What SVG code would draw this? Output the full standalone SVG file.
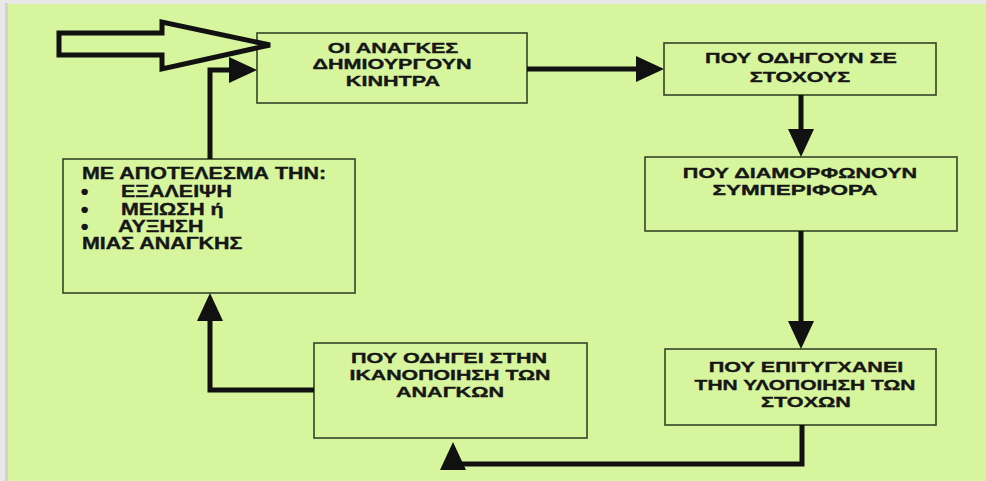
<svg xmlns="http://www.w3.org/2000/svg" width="986" height="481" viewBox="0 0 986 481">
<style>
.box{fill:#d7f59d;stroke:#34452a;stroke-width:1.6}
.t{font-family:"Liberation Sans",Arial,sans-serif;font-weight:bold;font-size:15px;fill:#161616;stroke:#161616;stroke-width:0.35;text-anchor:middle}
.t6{font-family:"Liberation Sans",Arial,sans-serif;font-weight:bold;font-size:16px;fill:#161616;stroke:#161616;stroke-width:0.35}
.b{font-family:"Liberation Sans",Arial,sans-serif;font-weight:bold;font-size:15px;fill:#161616;stroke:#161616;stroke-width:2.2}
.con{fill:none;stroke:#111;stroke-width:5;stroke-linejoin:miter}
</style>
<defs>
<marker id="ah" markerWidth="28" markerHeight="26" refX="22" refY="13" orient="auto" markerUnits="userSpaceOnUse">
<path d="M0,0 L28,13 L0,26 z" fill="#111"/>
</marker>
</defs>
<rect x="0" y="0" width="986" height="481" fill="#e8e8e8"/>
<rect x="5" y="3" width="3" height="478" fill="#d2d2d2"/>
<rect x="8" y="4" width="978" height="477" fill="#d7f59d"/>

<g id="node-anagkes">
<rect class="box" x="257" y="33" width="270" height="70"/>
<text class="t" transform="translate(393,53) scale(1.44,1)">ΟΙ ΑΝΑΓΚΕΣ</text>
<text class="t" transform="translate(392,69) scale(1.44,1)">ΔΗΜΙΟΥΡΓΟΥΝ</text>
<text class="t" transform="translate(393,86) scale(1.44,1)">ΚΙΝΗΤΡΑ</text>
</g>

<g id="node-stoxous">
<rect class="box" x="664" y="43" width="272" height="52"/>
<text class="t" transform="translate(801,63) scale(1.44,1)">ΠΟΥ ΟΔΗΓΟΥΝ ΣΕ</text>
<text class="t" transform="translate(800,82) scale(1.44,1)">ΣΤΟΧΟΥΣ</text>
</g>

<g id="node-symperifora">
<rect class="box" x="645" y="157" width="312" height="74"/>
<text class="t" transform="translate(800,178) scale(1.44,1)">ΠΟΥ ΔΙΑΜΟΡΦΩΝΟΥΝ</text>
<text class="t" transform="translate(795,195) scale(1.5,1)">ΣΥΜΠΕΡΙΦΟΡΑ</text>
</g>

<g id="node-epityxanei">
<rect class="box" x="665" y="349" width="271" height="76"/>
<text class="t" transform="translate(806,372) scale(1.44,1)">ΠΟΥ ΕΠΙΤΥΓΧΑΝΕΙ</text>
<text class="t" transform="translate(805,390) scale(1.4,1)">ΤΗΝ ΥΛΟΠΟΙΗΣΗ ΤΩΝ</text>
<text class="t" transform="translate(806,407) scale(1.44,1)">ΣΤΟΧΩΝ</text>
</g>

<g id="node-ikanopoiisi">
<rect class="box" x="314" y="343" width="273" height="95"/>
<text class="t" transform="translate(449,363) scale(1.44,1)">ΠΟΥ ΟΔΗΓΕΙ ΣΤΗΝ</text>
<text class="t" transform="translate(450,380) scale(1.42,1)">ΙΚΑΝΟΠΟΙΗΣΗ ΤΩΝ</text>
<text class="t" transform="translate(450,397) scale(1.44,1)">ΑΝΑΓΚΩΝ</text>
</g>

<g id="node-apotelesma">
<rect class="box" x="63" y="159" width="292" height="134"/>
<text class="t6" transform="translate(82,179) scale(1.34,1)">ΜΕ ΑΠΟΤΕΛΕΣΜΑ ΤΗΝ:</text>
<text class="b" x="82" y="197">•</text>
<text class="t6" transform="translate(121,197) scale(1.34,1)">ΕΞΑΛΕΙΨΗ</text>
<text class="b" x="82" y="215">•</text>
<text class="t6" transform="translate(121,215) scale(1.34,1)">ΜΕΙΩΣΗ ή</text>
<text class="b" x="82" y="232">•</text>
<text class="t6" transform="translate(118,232) scale(1.34,1)">ΑΥΞΗΣΗ</text>
<text class="t6" transform="translate(82,249) scale(1.34,1)">ΜΙΑΣ ΑΝΑΓΚΗΣ</text>
</g>

<g id="connectors">
<path class="con" d="M527,69 H658" marker-end="url(#ah)"/>
<path class="con" d="M801,95 V151" marker-end="url(#ah)"/>
<path class="con" d="M801,231 V343" marker-end="url(#ah)"/>
<path class="con" d="M802,425 V464 H453 V448" marker-end="url(#ah)"/>
<path class="con" d="M314,390 H210 V299" marker-end="url(#ah)"/>
<path class="con" d="M210,159 V70 H251" marker-end="url(#ah)"/>
</g>

<g id="entry-arrow">
<path d="M59,33 H162 V22 L270,45 L162,69 V55 H59 Z" fill="#d7f59d" stroke="#111" stroke-width="5" stroke-linejoin="miter"/>
</g>
</svg>
